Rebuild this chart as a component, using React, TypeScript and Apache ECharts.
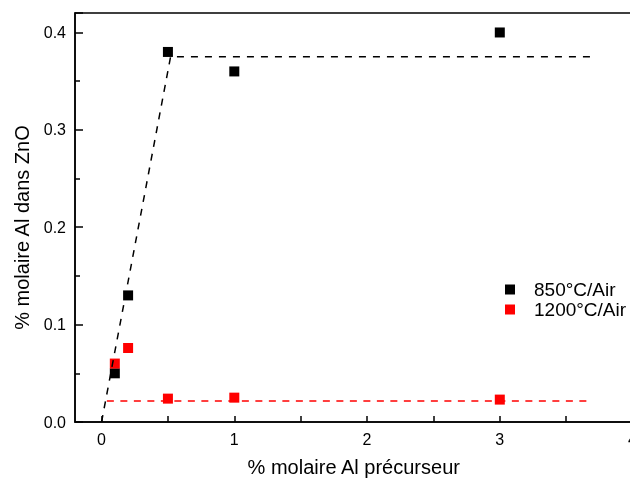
import React, { useEffect, useRef } from "react";
import * as echarts from "echarts";

const FONT = "'Liberation Sans', Arial, sans-serif";

const xValues = [0.1, 0.2, 0.5, 1, 3];
const air850 = [0.05, 0.13, 0.38, 0.36, 0.4];
const air1200 = [0.06, 0.076, 0.024, 0.025, 0.023];

const fit850X = [0, 0.52, 3.71];
const fit850Y = [0, 0.375, 0.375];
const fit1200X = [0.04, 3.67];
const fit1200Y = [0.0215, 0.0215];

const xTickValues = [0, 0.5, 1, 1.5, 2, 2.5, 3, 3.5, 4];

const seriesNames = ["850°C/Air", "1200°C/Air"];
const xTitle = "% molaire Al précurseur";
const yTitle = "% molaire Al dans ZnO";

const zip = (xs: number[], ys: number[]) => xs.map((x, i) => [x, ys[i]]);

export default function App() {
  const ref = useRef<HTMLDivElement>(null);
  useEffect(() => {
    if (!ref.current) return;
    const chart = echarts.init(ref.current, null, { renderer: "svg" });
    chart.setOption({
      animation: false,
      grid: {
        left: 75,
        right: 6,
        top: 13,
        bottom: 59,
        show: true,
        borderColor: "#000",
        borderWidth: 1.5,
        z: 10,
      },
      xAxis: {
        type: "value",
        min: -0.2,
        max: 4,
        splitNumber: 4,
        z: 10,
        splitLine: { show: false },
        axisLine: { show: true, onZero: false, lineStyle: { color: "#000", width: 1.5 } },
        axisTick: {
          show: true,
          inside: true,
          length: 6,
          customValues: xTickValues,
          lineStyle: { color: "#000", width: 1.5 },
        },
        axisLabel: {
          margin: 9,
          fontSize: 16,
          color: "#000",
          fontFamily: FONT,
          showMinLabel: false,
        },
        name: xTitle,
        nameLocation: "middle",
        nameGap: 35,
        nameTextStyle: { fontSize: 20, color: "#000", fontFamily: FONT },
      },
      yAxis: {
        type: "value",
        min: 0,
        max: 0.42,
        z: 10,
        splitLine: { show: false },
        axisLine: { show: true, onZero: false, lineStyle: { color: "#000", width: 1.5 } },
        axisTick: { show: true, inside: true, length: 8, lineStyle: { color: "#000", width: 1.5 } },
        minorTick: { show: true, splitNumber: 2, length: 5, lineStyle: { color: "#000", width: 1.5 } },
        minorSplitLine: { show: false },
        axisLabel: {
          formatter: (v: number) => v.toFixed(1),
          margin: 9,
          fontSize: 16,
          color: "#000",
          fontFamily: FONT,
          showMaxLabel: false,
        },
      },
      legend: {
        data: seriesNames,
        orient: "vertical",
        left: 500,
        top: 275,
        itemWidth: 10,
        itemHeight: 10,
        itemGap: 1,
        icon: "rect",
        textStyle: { fontSize: 19, color: "#000", fontFamily: FONT, padding: [0, 0, 0, 14] },
      },
      graphic: [
        {
          type: "text",
          x: 21.5,
          y: 227.5,
          rotation: Math.PI / 2,
          style: {
            text: yTitle,
            fontSize: 20,
            fontFamily: FONT,
            fill: "#000",
            textAlign: "center",
            textVerticalAlign: "middle",
          },
        },
      ],
      series: [
        {
          name: "fit850",
          type: "line",
          data: zip(fit850X, fit850Y),
          symbol: "none",
          lineStyle: { color: "#000", width: 1.5, type: [7, 7] },
        },
        {
          name: "fit1200",
          type: "line",
          data: zip(fit1200X, fit1200Y),
          symbol: "none",
          lineStyle: { color: "#ff0000", width: 1.5, type: [7, 6.5] },
        },
        {
          name: seriesNames[0],
          type: "scatter",
          symbol: "rect",
          symbolSize: 10,
          itemStyle: { color: "#000", opacity: 1 },
          data: zip(xValues, air850),
        },
        {
          name: seriesNames[1],
          type: "scatter",
          symbol: "rect",
          symbolSize: 10,
          itemStyle: { color: "#ff0000", opacity: 1 },
          data: zip(xValues, air1200),
        },
      ],
    });
    return () => chart.dispose();
  }, []);
  return <div ref={ref} style={{ position: "fixed", left: 0, top: 0, width: 640, height: 482 }} />;
}
